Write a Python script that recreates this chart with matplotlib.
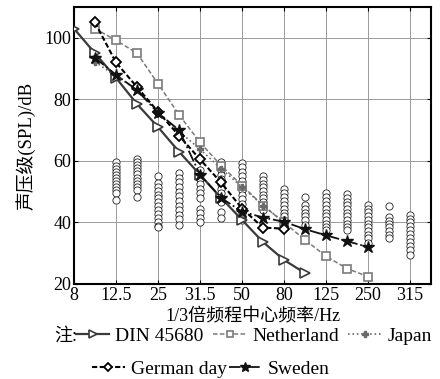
import matplotlib
matplotlib.use('Agg')
import matplotlib.pyplot as plt
import numpy as np

plt.rcParams['font.family'] = ['Liberation Serif', 'Noto Sans CJK SC']
plt.rcParams['mathtext.fontset'] = 'stix'

# tick labels (band centre frequencies, evenly placed)
tick_labels = ['8', '12.5', '25', '31.5', '50', '80', '125', '250', '315']

# curve positions are on half steps between tick labels
din_x = [0, 0.5, 1, 1.5, 2, 2.5, 3, 3.5, 4, 4.5, 5, 5.5]
din_y = [103, 95, 87, 78.5, 71, 63, 55.5, 48, 40.8, 33.6, 27.8, 23.5]

neth_x = [0.5, 1, 1.5, 2, 2.5, 3, 3.5, 4, 4.5, 5, 5.5, 6, 6.5, 7]
neth_y = [103, 99.2, 95, 85.1, 75, 66, 58.5, 52, 45.5, 40, 34.3, 29, 25, 22.4]

japan_x = [0.5, 1, 1.5, 2, 2.5, 3, 3.5, 4, 4.5, 5]
japan_y = [92.2, 87.5, 83.2, 75.9, 69.6, 63.8, 57.5, 51.5, 45.5, 40]

german_x = [0.5, 1, 1.5, 2, 2.5, 3, 3.5, 4, 4.5, 5]
german_y = [105, 92, 84, 76, 68.2, 60.5, 53, 44.5, 38.3, 38]

sweden_x = [0.5, 1, 1.5, 2, 2.5, 3, 3.5, 4, 4.5, 5, 5.5, 6, 6.5, 7]
sweden_y = [93.5, 88, 83, 75.6, 70, 55.5, 48, 43.5, 41.6, 40.2, 37.8, 35.8, 33.9, 32]

# measured levels (open circles), one list per band
meas_x = [1, 1.5, 2, 2.5, 3, 3.5, 4, 4.5, 5, 5.5, 6, 6.5, 7, 7.5, 8]
meas_y = [
    [59.5, 58.5, 57.5, 56.5, 55.5, 54.5, 53.5, 52.5, 51.5, 50.5, 49.5, 47.4],
    [60.6, 59.6, 58.6, 57.6, 56.6, 55.6, 54.6, 53.6, 52.6, 51.6, 50.6, 48.2],
    [55.2, 52.8, 51.5, 50.2, 49, 47.8, 46.5, 45.2, 44, 42.8, 41.5, 40.2, 39, 38.5],
    [56.1, 54.5, 53, 51.5, 50, 48.5, 47, 45.5, 44, 42.5, 41, 39.2],
    [57, 55.5, 54, 52.5, 51, 49.5, 48, 44.5, 43, 41.5, 40.3],
    [59.8, 58.5, 57, 55.5, 54, 52.5, 51, 49.5, 48, 46.8, 43.5, 41.4],
    [59.3, 58, 56.5, 55, 53.5, 52, 50.5, 49, 47.5, 46, 44.5, 43, 41.5, 40.8],
    [55, 53.8, 52.6, 51.4, 50.2, 49, 47.8, 46.6, 45.4, 44.1],
    [50.8, 49.5, 48.2, 47, 45.8, 44.5, 43.2, 42, 40.7, 39.5, 38.7],
    [48.4, 45.7, 44.5, 43.2, 42, 40.7, 39.2],
    [49.5, 48.2, 47, 45.8, 44.5, 43.2, 42, 40.8, 39.6, 38.4, 37.6],
    [49.2, 48, 46.8, 45.6, 44.4, 43.2, 42, 40.8, 39.6, 38.4, 37.4],
    [45.7, 44.5, 43.3, 42, 40.8, 39.6, 38.4, 37.2, 36, 34.8, 33.3],
    [45.2, 41.7, 40.6, 39.5, 38.4, 37.2, 36, 34.9],
    [42.5, 41.2, 40, 38.7, 37.4, 36.1, 34.8, 33.5, 32.2, 30.9, 29.5],
]

fig = plt.figure(figsize=(4.4, 3.79), dpi=100)
ax = fig.add_axes([0.168, 0.2507, 0.812, 0.7308])

# measured circles
for x, ys in zip(meas_x, meas_y):
    ax.plot([x] * len(ys), ys, linestyle='none', marker='o', markersize=5.2,
            markerfacecolor='white', markeredgecolor='#222222', markeredgewidth=0.6, zorder=3)

h_din, = ax.plot(din_x, din_y, '-', color='#3a3a3a', lw=1.6, marker='>', markersize=7,
                 markerfacecolor='white', markeredgecolor='#3a3a3a', markeredgewidth=1.2, zorder=5)
h_neth, = ax.plot(neth_x, neth_y, '--', color='#7a7a7a', lw=1.1, dashes=(3, 1.5), marker='s', markersize=6,
                  markerfacecolor='white', markeredgecolor='#7a7a7a', markeredgewidth=1.2, zorder=4)
h_jap, = ax.plot(japan_x, japan_y, ':', color='#6a6a6a', lw=1.2, marker='P', markersize=5,
                 markerfacecolor='#6a6a6a', markeredgecolor='#6a6a6a', zorder=4)
h_ger, = ax.plot(german_x, german_y, '--', color='black', lw=1.5, dashes=(2.5, 1.2), marker='D', markersize=5,
                 markerfacecolor='white', markeredgecolor='black', markeredgewidth=1.3, zorder=6)
h_swe, = ax.plot(sweden_x, sweden_y, '-.', color='#111111', lw=1.3, marker='*', markersize=9,
                 markerfacecolor='#111111', markeredgecolor='#111111', zorder=6)

ax.set_xlim(0, 8.5)
ax.set_ylim(20, 110)
ax.set_xticks(range(len(tick_labels)))
ax.set_xticklabels(tick_labels)
ax.set_yticks([20, 40, 60, 80, 100])
ax.tick_params(labelsize=13, direction='in', length=3, top=True, right=True, pad=2)
ax.grid(True, color='#9a9a9a', lw=0.7)
ax.set_axisbelow(True)
for s in ax.spines.values():
    s.set_linewidth(1.5)

ax.set_ylabel('声压级(SPL)/dB', fontsize=13.5, labelpad=6)
ax.set_xlabel('1/3倍频程中心频率/Hz', fontsize=13, labelpad=3)

# legend in two rows below the x label
fig.text(0.123, 0.113, '注:', fontsize=13, va='center')
leg1 = fig.legend([h_din, h_neth, h_jap], ['DIN 45680', 'Netherland', 'Japan'],
                  ncol=3, loc='center left', bbox_to_anchor=(0.173, 0.113), frameon=False,
                  fontsize=14, handlelength=1.7, handletextpad=0.3, columnspacing=0.5,
                  borderaxespad=0, borderpad=0, markerscale=0.8)
leg2 = fig.legend([h_ger, h_swe], ['German day', 'Sweden'],
                  ncol=2, loc='center left', bbox_to_anchor=(0.209, 0.026), frameon=False,
                  fontsize=14, handlelength=1.7, handletextpad=0.3, columnspacing=0.1,
                  borderaxespad=0, borderpad=0, markerscale=0.8)

fig.savefig('out.png', dpi=100)
